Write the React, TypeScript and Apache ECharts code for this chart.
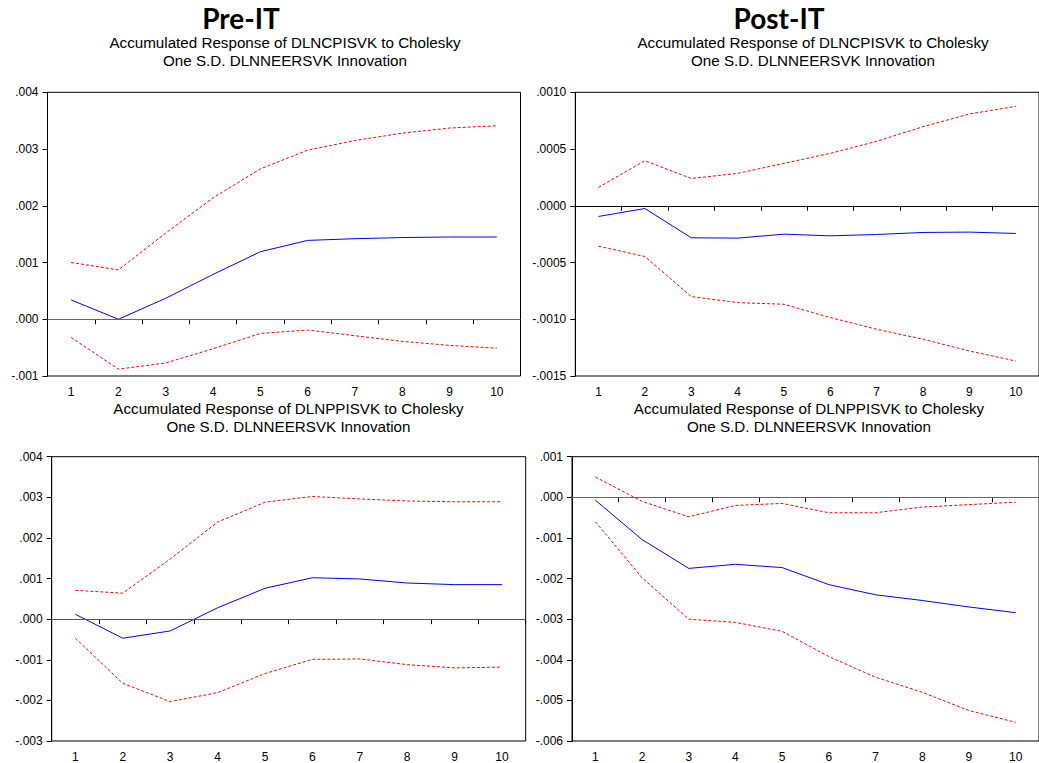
import React, { useEffect, useRef } from "react";
import * as echarts from "echarts";

// Forecast horizons (periods after the shock)
const horizons = ["1", "2", "3", "4", "5", "6", "7", "8", "9", "10"];

// Pre-IT: accumulated response of DLNCPISVK
const preCpiResp = [0.00034, 0.0, 0.00037, 0.00079, 0.00119, 0.00139, 0.00142, 0.00144, 0.00145, 0.00145];
const preCpiUpper = [0.001, 0.00087, 0.00152, 0.00214, 0.00265, 0.00298, 0.00315, 0.00328, 0.00337, 0.00341];
const preCpiLower = [-0.00032, -0.00088, -0.00077, -0.00052, -0.00025, -0.00019, -0.00029, -0.00039, -0.00046, -0.00051];

// Post-IT: accumulated response of DLNCPISVK
const postCpiResp = [-0.000094, -0.000024, -0.000282, -0.000285, -0.00025, -0.000265, -0.000253, -0.000235, -0.000232, -0.000244];
const postCpiUpper = [0.000162, 0.000397, 0.000241, 0.000285, 0.000374, 0.000462, 0.000568, 0.000697, 0.000809, 0.000876];
const postCpiLower = [-0.000356, -0.000447, -0.0008, -0.000853, -0.000868, -0.000985, -0.001088, -0.001176, -0.00128, -0.001368];

// Pre-IT: accumulated response of DLNPPISVK
const prePpiResp = [0.00012, -0.00047, -0.00029, 0.00028, 0.00076, 0.00102, 0.00099, 0.00089, 0.00085, 0.00085];
const prePpiUpper = [0.00071, 0.00064, 0.00148, 0.00239, 0.00288, 0.00302, 0.00296, 0.00291, 0.00289, 0.00289];
const prePpiLower = [-0.00047, -0.00158, -0.00203, -0.00181, -0.00134, -0.00099, -0.00098, -0.00112, -0.0012, -0.00118];

// Post-IT: accumulated response of DLNPPISVK
const postPpiResp = [-0.00007, -0.00104, -0.00175, -0.00165, -0.00173, -0.00215, -0.0024, -0.00254, -0.0027, -0.00284];
const postPpiUpper = [0.0005, -0.0001, -0.00048, -0.0002, -0.00015, -0.00038, -0.00038, -0.00024, -0.00018, -0.00012];
const postPpiLower = [-0.0006, -0.00198, -0.003, -0.00308, -0.0033, -0.00392, -0.00443, -0.0048, -0.00525, -0.00554];

// Value axis ranges: [min, max, step, decimals]
const preCpiAxis = [-0.001, 0.004, 0.001, 3];
const postCpiAxis = [-0.0015, 0.001, 0.0005, 4];
const prePpiAxis = [-0.003, 0.004, 0.001, 3];
const postPpiAxis = [-0.006, 0.001, 0.001, 3];

const columnTitles = ["Pre-IT", "Post-IT"];
const cpiTitle = ["Accumulated Response of DLNCPISVK to Cholesky", "One S.D. DLNNEERSVK Innovation"];
const ppiTitle = ["Accumulated Response of DLNPPISVK to Cholesky", "One S.D. DLNNEERSVK Innovation"];

const FONT = "'Liberation Sans', Arial, sans-serif";

const grids = [
  { left: 47.5, top: 92.3, width: 473, height: 283.7 },
  { left: 575.3, top: 92.3, width: 473, height: 283.7 },
  { left: 51.7, top: 456.7, width: 474, height: 285 },
  { left: 572, top: 456.7, width: 474, height: 285 },
];

const panels = [
  { axis: preCpiAxis, resp: preCpiResp, up: preCpiUpper, lo: preCpiLower, zero: "#666" },
  { axis: postCpiAxis, resp: postCpiResp, up: postCpiUpper, lo: postCpiLower, zero: "#000" },
  { axis: prePpiAxis, resp: prePpiResp, up: prePpiUpper, lo: prePpiLower, zero: "#555" },
  { axis: postPpiAxis, resp: postPpiResp, up: postPpiUpper, lo: postPpiLower, zero: "#666" },
];

function fmt(decimals: number) {
  return (v: number) => v.toFixed(decimals).replace(/^(-?)0\./, "$1.");
}

export default function App() {
  const ref = useRef<HTMLDivElement>(null);

  useEffect(() => {
    document.body.style.margin = "0";
    const chart = echarts.init(ref.current!, null, { renderer: "svg" });

    const xAxis = grids.map((_, i) => ({
      type: "category",
      gridIndex: i,
      data: horizons,
      boundaryGap: true,
      axisLine: { lineStyle: { color: "#000", width: 1 } },
      axisTick: { show: true, length: 5, inside: false, lineStyle: { color: "#000" } },
      axisLabel: { color: "#000", fontFamily: FONT, fontSize: 12, margin: 10 },
      splitLine: { show: false },
    }));

    const yAxis = panels.map((p, i) => ({
      type: "value",
      gridIndex: i,
      min: p.axis[0],
      max: p.axis[1],
      interval: p.axis[2],
      axisLine: { show: true, lineStyle: { color: "#000", width: 1 } },
      axisTick: { show: true, length: 5, inside: false, lineStyle: { color: "#000" } },
      axisLabel: { color: "#000", fontFamily: FONT, fontSize: 12, margin: 9, formatter: fmt(p.axis[3]) },
      splitLine: { show: false },
    }));

    const series: any[] = [];
    panels.forEach((p, i) => {
      const base = { type: "line", xAxisIndex: i, yAxisIndex: i, symbol: "none", silent: true };
      series.push({
        ...base,
        data: p.resp,
        lineStyle: { color: "#0000ff", width: 1 },
        markLine: {
          silent: true,
          symbol: "none",
          label: { show: false },
          lineStyle: { color: p.zero, type: "solid", width: 1.2 },
          data: [{ yAxis: 0 }],
        },
      });
      series.push({ ...base, data: p.up, lineStyle: { color: "#ff0000", width: 1, type: [3, 2] } });
      series.push({ ...base, data: p.lo, lineStyle: { color: "#ff0000", width: 1, type: [3, 2] } });
    });

    const subtitle = (x: number, y: number, lines: string[]) =>
      lines.map((t, k) => ({
        type: "text",
        x,
        y: y + k * 18,
        style: { text: t, fill: "#000", font: `15.2px ${FONT}`, textAlign: "center", textVerticalAlign: "middle" },
      }));

    const titleFont = `bold 28px Lato, 'Open Sans', sans-serif`;
    const graphic: any[] = [
      {
        type: "text",
        x: 241,
        y: 18,
        style: { text: columnTitles[0], fill: "#000", font: titleFont, textAlign: "center", textVerticalAlign: "middle" },
      },
      {
        type: "text",
        x: 779,
        y: 18,
        style: { text: columnTitles[1], fill: "#000", font: titleFont, textAlign: "center", textVerticalAlign: "middle" },
      },
      ...subtitle(285, 42, cpiTitle),
      ...subtitle(813, 42, cpiTitle),
      ...subtitle(288.5, 408, ppiTitle),
      ...subtitle(809, 408, ppiTitle),
    ];

    chart.setOption({
      animation: false,
      backgroundColor: "#fff",
      grid: grids.map((g) => ({ ...g, show: true, borderColor: "#000", borderWidth: 1, backgroundColor: "transparent" })),
      xAxis,
      yAxis,
      series,
      graphic,
    });

    return () => chart.dispose();
  }, []);

  return <div ref={ref} style={{ width: 1039, height: 763, overflow: "hidden" }} />;
}
